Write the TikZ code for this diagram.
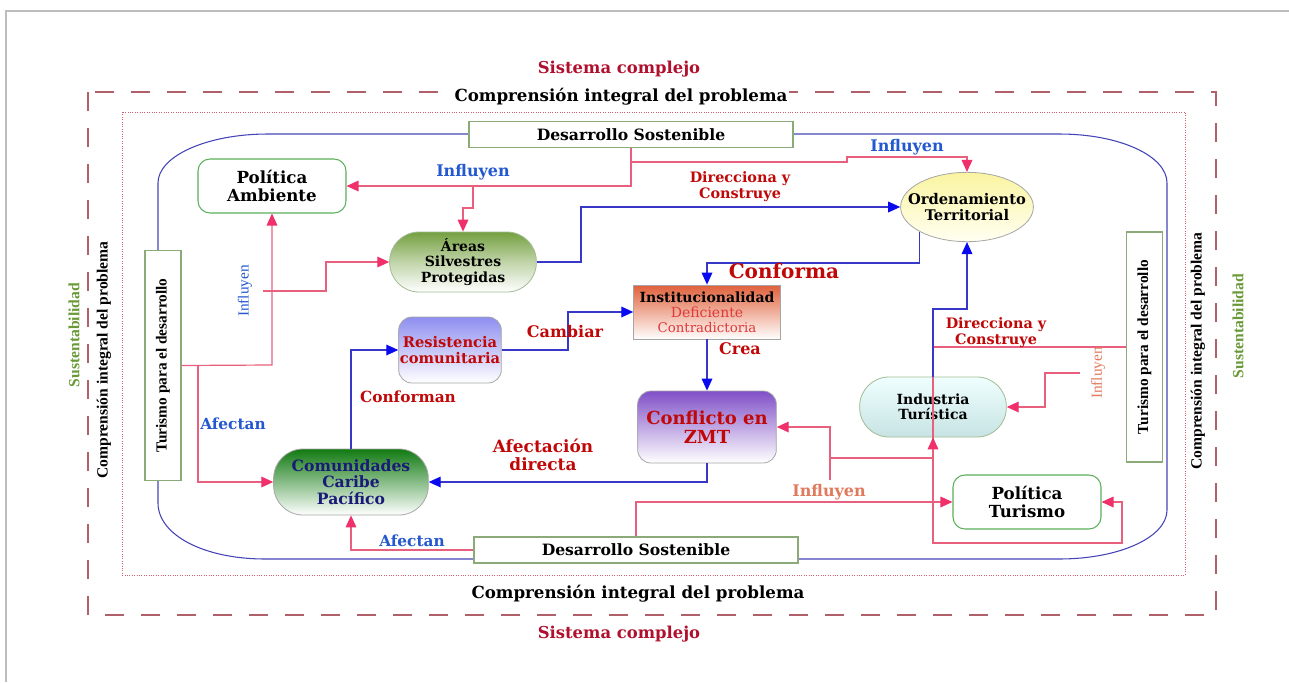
\documentclass[tikz,border=0pt]{standalone}
\usepackage{fontspec}
\setmainfont{DejaVu Serif}
\newfontfamily\libs{Liberation Serif}
\usetikzlibrary{arrows.meta,shapes.geometric}
\definecolor{framec}{HTML}{BDBDBD}
\definecolor{dashc}{HTML}{B06068}
\definecolor{dotc}{HTML}{D06070}
\definecolor{loopc}{HTML}{4444B8}
\definecolor{pinkl}{HTML}{E8607E}
\definecolor{pinkh}{HTML}{F0306A}
\definecolor{bluel}{HTML}{3838C8}
\definecolor{blueh}{HTML}{0A0AF0}
\definecolor{crims}{HTML}{B0102E}
\definecolor{lblue}{HTML}{2458D0}
\definecolor{dred}{HTML}{C00808}
\definecolor{orng}{HTML}{E07A5C}
\definecolor{sgreen}{HTML}{6A9A38}
\definecolor{boxg}{HTML}{8AAA78}
\definecolor{polg}{HTML}{5CB05C}
\definecolor{navyt}{HTML}{1A1A78}
\definecolor{redt}{HTML}{E03838}
\definecolor{instc}{HTML}{E0603A}
\definecolor{resic}{HTML}{8E8EF0}
\definecolor{confc}{HTML}{8050C8}
\definecolor{areac}{HTML}{74A040}
\definecolor{comuc}{HTML}{117A11}
\definecolor{ordc}{HTML}{FAF4A0}
\tikzset{
  pk/.style={draw=pinkl, line width=0.9pt},
  pkA/.style={pk, -{Triangle[length=9pt,width=8pt,color=pinkh]}},
  bl/.style={draw=bluel, line width=0.9pt},
  blA/.style={bl, -{Triangle[length=9pt,width=8pt,color=blueh]}},
  plainbox/.style={draw=boxg, fill=white, line width=0.8pt, inner sep=0pt},
  polbox/.style={draw=polg, fill=white, line width=0.8pt, rounded corners=9pt, align=center,
     font=\fontsize{12.5}{14}\selectfont\bfseries, minimum width=111pt, minimum height=40.5pt},
  gnode/.style={draw=gray!70, line width=0.6pt, align=center, inner sep=0pt},
  lab/.style={font=\fontsize{12}{13.5}\selectfont\bfseries, align=center, inner sep=0pt},
}
\begin{document}
\begin{tikzpicture}[x=0.75pt,y=-0.75pt]
\useasboundingbox (0,0) rectangle (1289,682);
\fill[white] (0,0) rectangle (1289,682);
% page frame
\draw[framec, line width=2pt] (6,682) -- (6,11) -- (1289,11);
% outer dashed and inner dotted frames
\draw[dashc, line width=1.1pt, dash pattern=on 14pt off 13pt] (88,92) rectangle (1216,615);
\draw[dotc, line width=0.6pt, dash pattern=on 0.6pt off 1.2pt] (122,112) rectangle (1185,575);
% frame labels
\node[font=\fontsize{12.3}{14}\selectfont\bfseries, text=crims] (sisT) at (619,69) {Sistema complejo};
\node[font=\fontsize{12.3}{14}\selectfont\bfseries, text=crims] (sisB) at (619,634) {Sistema complejo};
\node[font=\fontsize{12.5}{14}\selectfont\bfseries, fill=white, inner sep=1pt] (compT) at (621,97) {Comprensión integral del problema};
\node[font=\fontsize{12.5}{14}\selectfont\bfseries] (compB) at (638,594) {Comprensión integral del problema};
\node[rotate=90, font=\libs\fontsize{11.7}{14}\selectfont\bfseries] (compL) at (104,360) {Comprensión integral del problema};
\node[rotate=90, font=\libs\fontsize{11.7}{14}\selectfont\bfseries] (compR) at (1198,351) {Comprensión integral del problema};
\node[rotate=90, font=\libs\fontsize{11.7}{14}\selectfont\bfseries, text=sgreen] (sustL) at (74,335) {Sustentabilidad};
\node[rotate=90, font=\libs\fontsize{11.7}{14}\selectfont\bfseries, text=sgreen] (sustR) at (1238,326) {Sustentabilidad};
% blue loop
\draw[loopc, line width=0.8pt] (158,183) .. controls (158,156) and (207,134) .. (268,134) -- (1059,134)
   .. controls (1120,134) and (1167,156) .. (1167,183) -- (1167,510)
   .. controls (1167,537) and (1120,559) .. (1059,559) -- (265,559)
   .. controls (204,559) and (158,535) .. (158,503) -- cycle;
% boxes on the loop
\node[plainbox, minimum width=243pt, minimum height=19pt, font=\fontsize{11.7}{13}\selectfont\bfseries] (dsT) at (631,134.5) {Desarrollo Sostenible};
\node[plainbox, minimum width=243pt, minimum height=19.5pt, font=\fontsize{11.7}{13}\selectfont\bfseries] (dsB) at (636,550) {Desarrollo Sostenible};
\node[plainbox, minimum width=27pt, minimum height=172.5pt, font=\libs\fontsize{11.5}{13}\selectfont\bfseries] (turL) at (163,365.5) {\rotatebox{90}{Turismo para el desarrollo}};
\node[plainbox, minimum width=26.5pt, minimum height=172.5pt, font=\libs\fontsize{11.5}{13}\selectfont\bfseries] (turR) at (1144.5,347) {\rotatebox{90}{Turismo para el desarrollo}};
% main nodes
\node[polbox] (polA) at (272,186) {Política\\Ambiente};
\node[polbox] (polT) at (1027,502) {Política\\Turismo};
\node[gnode, draw=boxg!80, rounded corners=22pt, minimum width=110pt, minimum height=45pt,
      top color=areac, bottom color=white, middle color=areac!45,
      font=\fontsize{10.5}{11.3}\selectfont\bfseries] (areas) at (463,262) {Áreas\\Silvestres\\Protegidas};
\node[gnode, ellipse, inner xsep=-9pt, inner ysep=0pt, minimum height=52pt, top color=ordc, bottom color=yellow!5,
      font=\fontsize{11}{11.5}\selectfont\bfseries] (ord) at (967,207) {Ordenamiento\\Territorial};
\node[gnode, minimum width=110pt, minimum height=40.5pt, top color=instc, bottom color=white,
      font=\fontsize{10.5}{11.2}\selectfont] (inst) at (707,312)
      {\textbf{Institucionalidad}\\{\color{redt}Deficiente}\\{\color{redt}\fontsize{10}{10}\selectfont Contradictoria}};
\node[gnode, rounded corners=10pt, minimum width=77pt, minimum height=49.5pt, top color=resic, bottom color=white,
      text=dred, font=\fontsize{11}{12}\selectfont\bfseries] (resi) at (450,350) {Resistencia\\comunitaria};
\node[gnode, rounded corners=22pt, minimum width=116pt, minimum height=49.5pt, top color=comuc, bottom color=white,
      text=navyt, font=\fontsize{11.7}{12.4}\selectfont\bfseries] (comu) at (351,482) {Comunidades\\Caribe\\Pacífico};
\node[gnode, rounded corners=10pt, minimum width=104pt, minimum height=54pt, top color=confc, bottom color=white,
      text=dred, font=\fontsize{13.5}{14.5}\selectfont\bfseries] (conf) at (707,427) {Conflicto en\\ZMT};
\node[gnode, draw=boxg!80, rounded corners=22pt, minimum width=110pt, minimum height=45pt, top color=cyan!6!white, bottom color=teal!22,
      font=\fontsize{10.5}{11}\selectfont\bfseries] (indT) at (933,407) {Industria\\Turística};
% pink connectors
\draw[pkA] (dsT.south) |- (polA.east);
\coordinate (j2) at (631,162);
\draw[pkA] (j2) -- (847,162) -- (847,157) -- (967,157) -- (ord.north);
\coordinate (j3) at (473,186);
\draw[pkA] (j3) -- (473,208) -- (463,208) -- (areas.north);
\draw[pkA] (turL.east) -- (272,365) -- (polA.south);
\coordinate (j5) at (263,291);
\draw[pkA] (j5) -- (326,291) -- (326,262) -- (areas.west);
\coordinate (j6) at (198,365);
\draw[pkA] (j6) -- (198,482) -- (comu.west);
\draw[pkA] (dsB.west) -- (351,550) -- (comu.south);
\draw[pkA] (dsB.north) -- (636,502) -- (polT.west);
\draw[pkA] (turR.west) -- (933,347) -- (933,543) -- (1122,543) -- (1122,502) -- (polT.east);
\coordinate (j10) at (933,470);
\draw[pkA] (j10) -- (indT.south);
\coordinate (j11) at (830,480);
\draw[pkA] (j11) -- (830,427) -- (conf.east);
\coordinate (j12) at (830,458);
\coordinate (j12b) at (933,458);
\draw[pk] (j12) -- (j12b);
\coordinate (j13) at (1080,373);
\draw[pkA] (j13) -- (1045,373) -- (1045,407) -- (indT.east);
% blue connectors
\draw[blA] (areas.east) -- (581,262) -- (581,207) -- (ord.west);
\coordinate (b2) at (707,263);
\draw[blA] (ord.south west) |- (b2) -- (inst.north);
\draw[blA] (resi.east) -- (568,350) -- (568,312) -- (inst.west);
\draw[blA] (inst.south) -- (conf.north);
\draw[blA] (conf.south) -- (707,482) -- (comu.east);
\draw[blA] (comu.north) -- (351,350) -- (resi.west);
\draw[blA] (indT.north) -- (933,309) -- (967,309) -- (ord.south);
% labels
\node[lab, text=lblue] (l1) at (473,172) {Influyen};
\node[lab, text=lblue] (l2) at (907,147) {Influyen};
\node[lab, text=dred, font=\fontsize{10.8}{12}\selectfont\bfseries] (l3) at (740,187) {Direcciona y\\Construye};
\node[lab, text=dred, font=\fontsize{15}{16}\selectfont\bfseries] (l4) at (784,271) {Conforma};
\node[lab, text=dred] (l5) at (565,332) {Cambiar};
\node[lab, text=dred] (l6) at (740,349) {Crea};
\node[lab, text=dred, font=\fontsize{11.5}{13}\selectfont\bfseries] (l7) at (408,397) {Conforman};
\node[lab, text=lblue, font=\fontsize{11.5}{13}\selectfont\bfseries] (l8) at (233,424) {Afectan};
\node[lab, text=lblue, font=\fontsize{11.5}{13}\selectfont\bfseries] (l9) at (412,541) {Afectan};
\node[lab, text=dred, font=\fontsize{12.7}{13.5}\selectfont\bfseries] (l10) at (543,455) {Afectación\\directa};
\node[lab, text=orng] (l11) at (829,492) {Influyen};
\node[lab, text=dred, font=\fontsize{10.8}{12}\selectfont\bfseries] (l12) at (996,333) {Direcciona y\\Construye};
\node[lab, rotate=90, text=orng, font=\libs\fontsize{11.5}{13}\selectfont] (l13) at (1098,373) {Influyen};
\node[lab, rotate=90, text=lblue, font=\libs\fontsize{11.5}{13}\selectfont] (l14) at (245,291) {Influyen};
\end{tikzpicture}
\end{document}
